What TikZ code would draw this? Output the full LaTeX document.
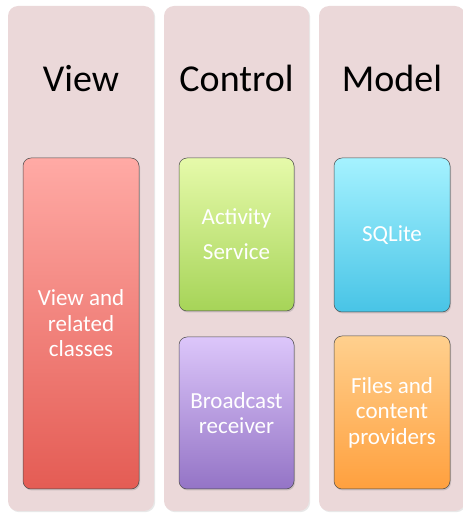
\documentclass[tikz,border=0pt]{standalone}
\usepackage{fontspec}
\setmainfont{Carlito}
\usetikzlibrary{shadows}
\definecolor{colbg}{RGB}{235,216,217}
\definecolor{viewtop}{RGB}{255,170,165}
\definecolor{viewbot}{RGB}{228,92,84}
\definecolor{acttop}{RGB}{230,250,170}
\definecolor{actbot}{RGB}{166,212,88}
\definecolor{brtop}{RGB}{220,198,250}
\definecolor{brbot}{RGB}{148,116,198}
\definecolor{sqtop}{RGB}{165,242,255}
\definecolor{sqbot}{RGB}{72,196,230}
\definecolor{fitop}{RGB}{255,208,142}
\definecolor{fibot}{RGB}{255,160,62}
\tikzset{
  column/.style={fill=colbg, rounded corners=10pt, minimum height=505pt,
    drop shadow={shadow xshift=1.2pt, shadow yshift=-1.2pt, opacity=0.18}},
  header/.style={font=\fontsize{38}{42}\selectfont, text=black, anchor=base},
  box/.style={rounded corners=8pt, draw=black!70, line width=0.5pt,
    text=white, align=center, font=\fontsize{23}{25.5}\selectfont,
    drop shadow={shadow xshift=1pt, shadow yshift=-1.5pt, opacity=0.3}},
}
\begin{document}
\begin{tikzpicture}[x=1pt,y=1pt]
\useasboundingbox (0,0) rectangle (463,515);
\clip (0,0) rectangle (463,515);
\node[column, minimum width=146pt] (colview) at (81,256.5) {};
\node[column, minimum width=145pt] (colctrl) at (236.5,256.5) {};
\node[column, minimum width=146pt] (colmodel) at (392,256.5) {};

\node[header] (hview) at (81,423) {View};
\node[header] (hctrl) at (236.5,423) {Control};
\node[header] (hmodel) at (392,423) {Model};

\node[box, top color=viewtop, bottom color=viewbot, minimum width=116pt, minimum height=331pt]
  (view) at (81,191.5) {View and\\related\\classes};
\node[box, top color=acttop, bottom color=actbot, minimum width=115pt, minimum height=153pt,
  font=\fontsize{23}{35}\selectfont]
  (act) at (236.5,280.5) {Activity\\Service};
\node[box, top color=brtop, bottom color=brbot, minimum width=115pt, minimum height=152pt]
  (broad) at (236.5,102) {Broadcast\\receiver};
\node[box, top color=sqtop, bottom color=sqbot, minimum width=116pt, minimum height=154pt]
  (sql) at (392,280) {SQLite};
\node[box, top color=fitop, bottom color=fibot, minimum width=116pt, minimum height=153pt]
  (files) at (392,102.5) {Files and\\content\\providers};
\end{tikzpicture}
\end{document}
